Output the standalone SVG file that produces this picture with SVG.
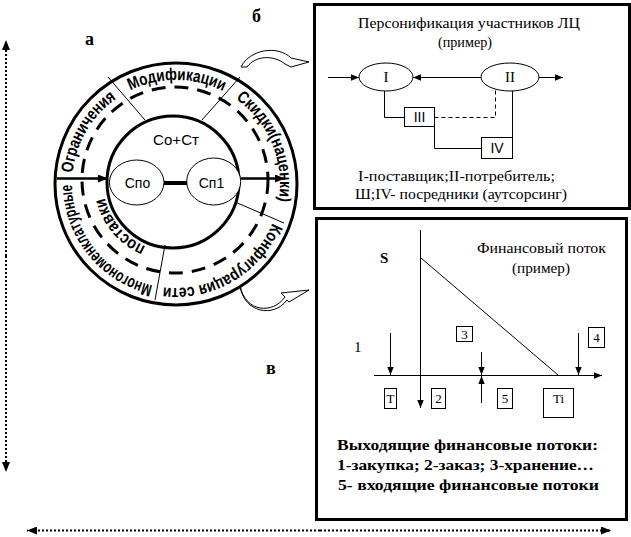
<svg xmlns="http://www.w3.org/2000/svg" width="631" height="537" viewBox="0 0 631 537">
<style>
.ln{fill:none;stroke:#000;stroke-width:1}
.thk{fill:none;stroke:#000;stroke-width:3}
.rt{font-family:"Liberation Sans",Arial,sans-serif;font-weight:bold;font-size:17px;fill:#000}
.sans{font-family:"Liberation Sans",Arial,sans-serif;font-size:14px;fill:#000}
.ser{font-family:"Liberation Serif","Times New Roman",serif;font-size:15px;fill:#000}
.serb{font-family:"Liberation Serif","Times New Roman",serif;font-size:15px;font-weight:bold;fill:#000}
.lbl{font-family:"Liberation Serif","Times New Roman",serif;font-size:18px;font-weight:bold;fill:#000}
.small{font-family:"Liberation Serif","Times New Roman",serif;font-size:13px;fill:#000}
.dot{fill:none;stroke:#000;stroke-width:2;stroke-dasharray:2 2}
</style>
<defs>
<marker id="ah" viewBox="0 0 10 8" refX="10" refY="4" markerWidth="10" markerHeight="8" markerUnits="userSpaceOnUse" orient="auto"><path d="M0,0 L10,4 L0,8 z" fill="#000"/></marker>
<marker id="ahs" viewBox="0 0 10 8" refX="10" refY="4" markerWidth="8" markerHeight="7" markerUnits="userSpaceOnUse" orient="auto"><path d="M0,0 L10,4 L0,8 z" fill="#000"/></marker>
<path id="p-ogr" d="M72.6,173.1 A104,104 0 0 1 116.3,98.8"/>
<path id="p-mod" d="M130.4,90.5 A104,104 0 0 1 223.2,91.3"/>
<path id="p-skid" d="M235.7,98.8 A104,104 0 0 1 278.4,202.1"/>
<path id="p-konf" d="M272.4,223.0 A104,104 0 0 1 163.3,287.2"/>
<path id="p-mnog" d="M152.6,285.3 A104,104 0 0 1 72,184"/>
<path id="p-post" d="M145.7,246.4 A70,70 0 0 1 104.8,197.8"/>
</defs>

<rect width="631" height="537" fill="#fff"/>

<!-- labels -->
<text class="lbl" x="85" y="45">а</text>
<text class="lbl" x="252" y="22">б</text>
<text class="lbl" x="266" y="374">в</text>

<!-- ring diagram -->
<g id="ring">
<circle cx="176" cy="184" r="121" class="thk"/>
<circle cx="175" cy="180" r="93" fill="none" stroke="#000" stroke-width="3" stroke-dasharray="14 9"/>
<circle cx="173" cy="182" r="66" class="thk"/>
<line class="ln" x1="108" y1="77" x2="145" y2="120"/>
<line class="ln" x1="240" y1="77" x2="202" y2="120"/>
<line class="ln" x1="235" y1="202" x2="284" y2="223"/>
<line class="ln" x1="165" y1="245" x2="155" y2="300"/>
<text class="rt"><textPath href="#p-ogr" textLength="89" lengthAdjust="spacingAndGlyphs">Ограничения</textPath></text>
<text class="rt"><textPath href="#p-mod" textLength="96" lengthAdjust="spacingAndGlyphs">Модификации</textPath></text>
<text class="rt"><textPath href="#p-skid" textLength="117" lengthAdjust="spacingAndGlyphs">Скидки(наценки)</textPath></text>
<text class="rt"><textPath href="#p-konf" textLength="136" lengthAdjust="spacingAndGlyphs">Конфигурация сети</textPath></text>
<text class="rt"><textPath href="#p-mnog" textLength="139" lengthAdjust="spacingAndGlyphs">Многономенклатурные</textPath></text>
<text class="rt" font-size="16"><textPath href="#p-post" textLength="66" lengthAdjust="spacingAndGlyphs">поставки</textPath></text>
<text class="sans" x="176" y="145" text-anchor="middle" textLength="46" lengthAdjust="spacingAndGlyphs">Со+Ст</text>
</g>
<g id="node-spo">
<ellipse cx="136.7" cy="182.5" rx="27.3" ry="22.5" fill="#fff" stroke="#000" stroke-width="1"/>
<text class="sans" x="137.5" y="188" text-anchor="middle">Спо</text>
</g>
<g id="node-sp1">
<ellipse cx="213.7" cy="181.5" rx="27" ry="23.5" fill="#fff" stroke="#000" stroke-width="1"/>
<text class="sans" x="211.5" y="188" text-anchor="middle">Сп1</text>
</g>

<!-- curved arrows -->
<g id="curl-top">
<path d="M241,67 C250,49 278,45 291,58 L309,62 L291,67 L285,64 C274,55 256,55 247,67 Z" fill="#fff" stroke="#000" stroke-width="1"/>
</g>
<g id="curl-bottom">
<path d="M240,286 C246,313 273,314 285,297 L281,293 L309,290 L289,302 L287,300 C274,318 244,313 240,286 Z" fill="#fff" stroke="#000" stroke-width="1"/>
</g>

<!-- persona box -->
<g id="box-persona">
<rect x="314.5" y="4.5" width="315" height="204" class="thk"/>
<text class="ser" x="469" y="28" text-anchor="middle" textLength="222" lengthAdjust="spacingAndGlyphs">Персонификация участников ЛЦ</text>
<text class="ser" x="465" y="47" text-anchor="middle" textLength="54" lengthAdjust="spacingAndGlyphs">(пример)</text>
<g id="node-I">
<ellipse cx="386" cy="77" rx="27" ry="14" fill="#fff" stroke="#000" stroke-width="1"/>
<text class="ser" x="386" y="82" text-anchor="middle">I</text>
</g>
<g id="node-II">
<ellipse cx="510" cy="77" rx="29" ry="14" fill="#fff" stroke="#000" stroke-width="1"/>
<text class="ser" x="510" y="82" text-anchor="middle">II</text>
</g>
<g id="node-III">
<rect x="404.5" y="107.5" width="30" height="19" fill="#fff" stroke="#000" stroke-width="1"/>
<text class="sans" x="419.5" y="122" text-anchor="middle" font-size="13">III</text>
</g>
<g id="node-IV">
<rect x="481.5" y="137.5" width="31" height="21" fill="#fff" stroke="#000" stroke-width="1"/>
<text class="sans" x="497" y="153" text-anchor="middle" font-size="13">IV</text>
</g>
<text class="ser" x="358" y="181" textLength="197" lengthAdjust="spacingAndGlyphs">I-поставщик;II-потребитель;</text>
<text class="ser" x="355" y="199" textLength="212" lengthAdjust="spacingAndGlyphs">Ш;IV- посредники (аутсорсинг)</text>
</g>

<!-- finance box -->
<g id="box-finance">
<rect x="316.5" y="218.5" width="310" height="301" class="thk"/>
<text class="serb" x="380" y="263" font-size="17">S</text>
<text class="ser" x="477" y="253" textLength="129" lengthAdjust="spacingAndGlyphs">Финансовый поток</text>
<text class="ser" x="512" y="273" textLength="58" lengthAdjust="spacingAndGlyphs">(пример)</text>
<text class="ser" x="354" y="352">1</text>
<line class="ln" x1="421" y1="258" x2="558" y2="375"/>
<g id="box-3"><rect x="456.5" y="326.5" width="16" height="15" fill="#fff" stroke="#000"/><text class="small" x="464.5" y="339" text-anchor="middle">3</text></g>
<g id="box-4"><rect x="588.5" y="327.5" width="16" height="20" fill="#fff" stroke="#000"/><text class="small" x="596.5" y="342" text-anchor="middle">4</text></g>
<g id="box-T"><rect x="384.5" y="388.5" width="12" height="20" fill="#fff" stroke="#000"/><text class="small" x="390.5" y="403" text-anchor="middle">T</text></g>
<g id="box-2"><rect x="431.5" y="388.5" width="14" height="20" fill="#fff" stroke="#000"/><text class="small" x="438.5" y="403" text-anchor="middle">2</text></g>
<g id="box-5"><rect x="497.5" y="388.5" width="15" height="20" fill="#fff" stroke="#000"/><text class="small" x="505" y="403" text-anchor="middle">5</text></g>
<g id="box-Ti"><rect x="543.5" y="388.5" width="30" height="29" fill="#fff" stroke="#000"/><text class="small" x="558.5" y="403" text-anchor="middle">Ti</text></g>
<text class="serb" x="337" y="450" textLength="261" lengthAdjust="spacingAndGlyphs">Выходящие финансовые потоки:</text>
<text class="serb" x="337" y="470" textLength="257" lengthAdjust="spacingAndGlyphs">1-закупка; 2-заказ; 3-хранение…</text>
<text class="serb" x="338" y="490" textLength="261" lengthAdjust="spacingAndGlyphs">5- входящие финансовые потоки</text>
</g>

<!-- connectors -->
<g id="connectors">
<line x1="57" y1="178.5" x2="108" y2="178.5" stroke="#000" stroke-width="2.5" marker-end="url(#ah)"/>
<line x1="241" y1="178.5" x2="285" y2="178.5" stroke="#000" stroke-width="2.5" marker-end="url(#ah)"/>
<line x1="164" y1="183" x2="187" y2="183" stroke="#000" stroke-width="4"/>
<line class="ln" x1="328" y1="77.5" x2="359" y2="77.5" marker-end="url(#ahs)"/>
<line class="ln" x1="481" y1="77.5" x2="413" y2="77.5" marker-end="url(#ahs)"/>
<line class="ln" x1="539" y1="77.5" x2="563" y2="77.5" marker-end="url(#ahs)"/>
<polyline class="ln" points="384.5,91 384.5,117.5 404.5,117.5"/>
<polyline class="ln" points="434.5,117.5 495.5,117.5 495.5,89" stroke-dasharray="4 3"/>
<line class="ln" x1="512.5" y1="91" x2="512.5" y2="137.5"/>
<polyline class="ln" points="434.5,126.5 434.5,148.5 481.5,148.5"/>
<line class="ln" x1="420.5" y1="230" x2="420.5" y2="408" marker-end="url(#ahs)"/>
<line class="ln" x1="374" y1="375.5" x2="602" y2="375.5" marker-end="url(#ahs)"/>
<line class="ln" x1="390.5" y1="333" x2="390.5" y2="375" marker-end="url(#ahs)"/>
<line class="ln" x1="481.5" y1="352" x2="481.5" y2="375" marker-end="url(#ahs)"/>
<line class="ln" x1="481.5" y1="403" x2="481.5" y2="376" marker-end="url(#ahs)"/>
<line class="ln" x1="578.5" y1="333" x2="578.5" y2="375" marker-end="url(#ahs)"/>
<line class="dot" x1="6" y1="256" x2="6" y2="40" marker-end="url(#ah)"/>
<line class="dot" x1="6" y1="256" x2="6" y2="472" marker-end="url(#ah)"/>
<line class="dot" x1="320" y1="530.5" x2="27" y2="530.5" marker-end="url(#ah)"/>
<line class="dot" x1="320" y1="530.5" x2="611" y2="530.5" marker-end="url(#ah)"/>
</g>
</svg>
